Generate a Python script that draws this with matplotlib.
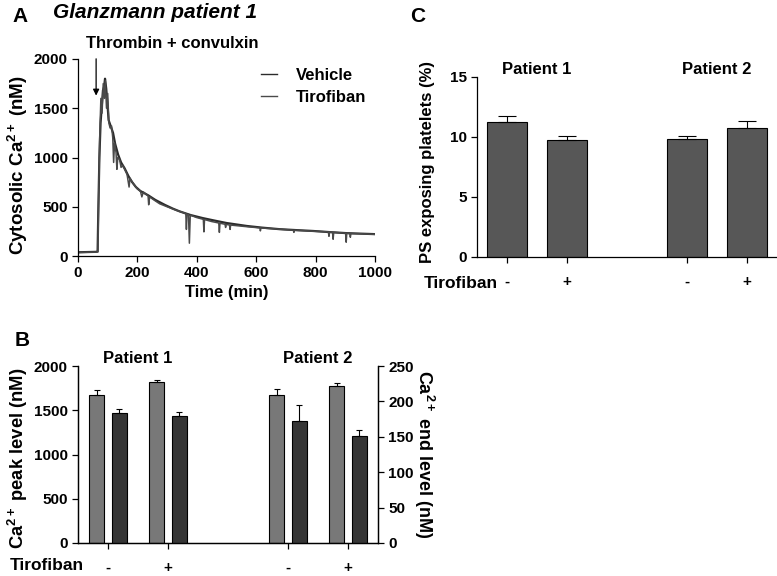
import matplotlib
matplotlib.use("Agg")
import matplotlib.pyplot as plt
import numpy as np

plt.rcParams['font.family'] = ['Liberation Sans', 'DejaVu Sans']
plt.rcParams['font.weight'] = 'bold'
plt.rcParams['axes.labelweight'] = 'bold'
plt.rcParams['axes.linewidth'] = 0.9
plt.rcParams['mathtext.fontset'] = 'custom'
plt.rcParams['mathtext.rm'] = 'Liberation Sans:bold'
plt.rcParams['mathtext.bf'] = 'Liberation Sans:bold'
plt.rcParams['mathtext.it'] = 'Liberation Sans:italic:bold'

# panel A: cytosolic Ca2+ traces (time, nM)
veh_t = [0, 30, 60, 66, 68, 72, 76, 80, 84, 88, 91, 95, 99, 103, 110, 118, 125, 135, 145, 157,
         170, 181, 195, 210, 237, 260, 293, 320, 343, 380, 420, 456, 500, 568, 620, 680, 740,
         792, 850, 905, 950, 1000]
veh_y = [38, 40, 42, 45, 400, 1000, 1350, 1520, 1680, 1720, 1800, 1700, 1550, 1380, 1320, 1250,
         1140, 1030, 950, 890, 810, 755, 700, 660, 615, 570, 518, 480, 452, 415, 385, 362, 335,
         305, 288, 272, 262, 254, 242, 232, 227, 222]

tir_t = [0, 30, 60, 67, 69, 73, 77, 81, 85, 89, 92, 96, 100, 104, 108, 113, 117, 120, 123, 128,
         131, 134, 140, 145, 150, 157, 165, 172, 175, 185, 200, 210, 215, 220, 236, 238, 241,
         260, 275, 300, 330, 350, 363, 365, 367, 372, 375, 378, 400, 422, 424, 426, 450, 474,
         476, 478, 495, 497, 499, 510, 512, 514, 560, 613, 614, 616, 680, 725, 727, 729, 792,
         843, 845, 847, 857, 859, 861, 880, 901, 903, 905, 915, 917, 919, 950, 1000]
tir_y = [35, 38, 40, 42, 500, 1200, 1600, 1450, 1750, 1600, 1780, 1500, 1650, 1350, 1300, 1320,
         1200, 950, 1150, 1050, 880, 1000, 980, 900, 920, 880, 830, 700, 790, 740, 680, 660, 600,
         650, 610, 520, 600, 560, 530, 500, 465, 445, 430, 270, 425, 420, 130, 415, 390, 372, 245,
         370, 350, 335, 240, 333, 322, 290, 320, 315, 270, 314, 300, 285, 255, 285, 272, 262, 240,
         262, 252, 244, 200, 244, 240, 170, 240, 236, 232, 140, 232, 228, 190, 228, 226, 220]

# panels B and C
tick_pos = [0, 1, 3, 4]
tick_labels = ['-', '+', '-', '+']
peak = [1673, 1816, 1670, 1771]
peak_err = [60, 23, 75, 41]
end_level = [184, 180, 173, 151]
end_err = [5.5, 5, 22, 9]
ps = [11.23, 9.79, 9.87, 10.73]
ps_err = [0.48, 0.30, 0.25, 0.64]

fig = plt.figure(figsize=(7.77, 5.76), dpi=100)

# ---- A ----
axA = fig.add_axes([78/777, 1-256/576, 297/777, 197/576])
axA.plot(veh_t, veh_y, color='#2b2b2b', lw=1.6, label='Vehicle')
axA.plot(tir_t, tir_y, color='#4a4a4a', lw=1.1, label='Tirofiban')
axA.set_xlim(0, 1000)
axA.set_ylim(0, 2000)
axA.set_xticks([0, 200, 400, 600, 800, 1000])
axA.set_yticks([0, 500, 1000, 1500, 2000])
axA.spines['top'].set_visible(False)
axA.spines['right'].set_visible(False)
axA.tick_params(labelsize=11, width=0.9, length=4)
axA.set_xlabel('Time (min)', fontsize=12, labelpad=3)
axA.set_ylabel('Cytosolic Ca$^{2+}$ (nM)', fontsize=13.5)
axA.yaxis.set_label_coords(-0.163, 0.46)
leg = axA.legend(loc='upper right', bbox_to_anchor=(1.02, 1.03), frameon=False, fontsize=12,
                 handlelength=1.0, handletextpad=1.1, labelspacing=0.4)
for h in leg.get_lines():
    h.set_linewidth(1.0)
axA.annotate('', xy=(61, 1600), xytext=(61, 2030), annotation_clip=False,
             arrowprops=dict(arrowstyle='-|>', color='black', lw=0.9, mutation_scale=9))
fig.text(172/777, 1-43/576, 'Thrombin + convulxin', fontsize=12, ha='center', va='center')
fig.text(12/777, 1-17/576, 'A', fontsize=15, ha='left', va='center')
fig.text(53/777, 1-13/576, 'Glanzmann patient 1', fontsize=15, style='italic',
         ha='left', va='center')

# ---- B ----
axB = fig.add_axes([78/777, 1-543/576, 300/777, 177/576])
axB2 = axB.twinx()
xs = np.array(tick_pos)
axB.bar(xs - 0.19, peak, width=0.25, color='#787878', edgecolor='black', lw=0.8)
axB.errorbar(xs - 0.19, peak, yerr=[np.zeros(4), peak_err], fmt='none', ecolor='black',
             elinewidth=0.8, capsize=2.5, capthick=0.8)
axB2.bar(xs + 0.19, end_level, width=0.25, color='#363636', edgecolor='black', lw=0.8)
axB2.errorbar(xs + 0.19, end_level, yerr=[np.zeros(4), end_err], fmt='none', ecolor='black',
              elinewidth=0.8, capsize=2.5, capthick=0.8)
axB.set_xlim(-0.5, 4.5)
axB.set_ylim(0, 2000)
axB2.set_ylim(0, 250)
axB.set_yticks([0, 500, 1000, 1500, 2000])
axB2.set_yticks([0, 50, 100, 150, 200, 250])
axB.set_xticks(tick_pos)
axB.set_xticklabels(tick_labels, fontsize=13)
for a in (axB, axB2):
    a.spines['top'].set_visible(False)
    a.tick_params(labelsize=11, width=0.9, length=4)
axB.tick_params(axis='x', pad=9)
axB.set_ylabel('Ca$^{2+}$ peak level (nM)', fontsize=13.2)
axB.yaxis.set_label_coords(-0.16, 0.48)
axB2.set_ylabel('Ca$^{2+}$ end level (nM)', fontsize=13, rotation=270, labelpad=16)
axB.text(0.5, 1.0, 'Patient 1', transform=axB.get_xaxis_transform(), ha='center',
         va='bottom', fontsize=12)
axB.text(3.5, 1.0, 'Patient 2', transform=axB.get_xaxis_transform(), ha='center',
         va='bottom', fontsize=12)
fig.text(10/777, 1-566/576, 'Tirofiban', fontsize=12.5, ha='left', va='center')
fig.text(15/777, 1-340/576, 'B', fontsize=15, ha='left', va='center')

# ---- C ----
axC = fig.add_axes([477/777, 1-257/576, 300/777, 180/576])
axC.bar(xs, ps, width=0.68, color='#575757', edgecolor='black', lw=0.8)
axC.errorbar(xs, ps, yerr=[np.zeros(4), ps_err], fmt='none', ecolor='black',
             elinewidth=0.8, capsize=6.5, capthick=0.8)
axC.set_xlim(-0.5, 4.5)
axC.set_ylim(0, 15)
axC.set_yticks([0, 5, 10, 15])
axC.set_xticks(tick_pos)
axC.set_xticklabels(tick_labels, fontsize=13)
axC.spines['top'].set_visible(False)
axC.spines['right'].set_visible(False)
axC.tick_params(labelsize=11, width=0.9, length=4)
axC.tick_params(axis='x', pad=9)
axC.set_ylabel('PS exposing platelets (%)', fontsize=12, fontweight='bold')
axC.yaxis.set_label_coords(-0.14, 0.53)
axC.text(0.5, 1.0, 'Patient 1', transform=axC.get_xaxis_transform(), ha='center',
         va='bottom', fontsize=12)
axC.text(3.5, 1.0, 'Patient 2', transform=axC.get_xaxis_transform(), ha='center',
         va='bottom', fontsize=12)
fig.text(424/777, 1-284/576, 'Tirofiban', fontsize=12.5, ha='left', va='center')
fig.text(410/777, 1-17/576, 'C', fontsize=15, ha='left', va='center')

fig.savefig('out.png', dpi=100)
